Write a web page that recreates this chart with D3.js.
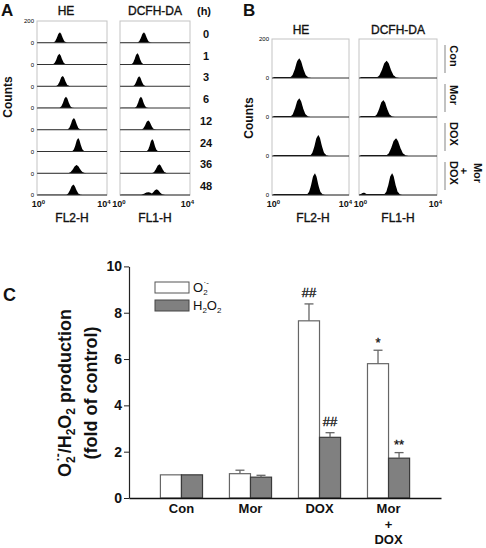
<!DOCTYPE html>
<html><head><meta charset="utf-8">
<script src="https://cdn.jsdelivr.net/npm/d3@7"></script>
<style>body{margin:0;background:#fff}svg{display:block}text{font-family:Arial,"Liberation Sans",sans-serif}</style>
</head><body><svg id="c" width="486" height="548"></svg>
<script>
// ---------- Panel A data (peak position in decades, peak counts, half-width in decades) ----------
const timeLabels = ["0","1","3","6","12","24","36","48"];
const heCenterA  = [1.31,1.28,1.47,1.66,2.11,2.36,2.27,2.08];
const hePeakA    = [96,98,95,104,108,123,76,96];
const heWidthA   = [0.36,0.36,0.36,0.36,0.36,0.34,0.46,0.4];
const dcfCenterA = [1.37,1.0,1.1,1.2,1.62,1.85,2.25,2.1];
const dcfPeakA   = [96,104,92,104,86,114,83,52];
const dcfWidthA  = [0.36,0.34,0.34,0.34,0.38,0.32,0.4,0.42];
const dcfShoulderA = [null,null,null,null,null,null,null,[1.62,26,0.5]];
// ---------- Panel B data ----------
const treatB = ["Con","Mor","DOX","Mor + DOX"];
const heCenterB  = [1.42,1.42,2.41,2.23];
const hePeakB    = [101,96,108,112];
const heWidthB   = [0.47,0.45,0.42,0.4];
const dcfCenterB = [1.42,1.25,1.9,1.7];
const dcfPeakB   = [89,87,91,112];
const dcfWidthB  = [0.5,0.45,0.5,0.4];
const dcfShoulderB = [null,null,null,[0.25,12,0.3]];
// shared peak profile (offset in half-widths, relative height)
const profileX = [-1.25,-1,-0.75,-0.5,-0.25,0,0.2,0.45,0.7,1,1.3];
const profileY = [0,0.03,0.15,0.45,0.85,1,0.85,0.45,0.15,0.03,0];
// ---------- Panel C data ----------
const categories = ["Con","Mor","DOX","Mor + DOX"];
const o2Values   = [1.0,1.05,7.65,5.8];
const o2Errors   = [0,0.15,0.73,0.58];
const h2o2Values = [1.0,0.9,2.62,1.72];
const h2o2Errors = [0,0.08,0.2,0.24];
const o2Marks    = ["","","##","*"];
const h2o2Marks  = ["","","##","**"];
const yTicks     = [0,2,4,6,8,10];

const FONT = 'Arial,"Liberation Sans",sans-serif';
const svg = d3.select("#c");
const prof = d3.scaleLinear().domain(profileX).range(profileY).clamp(true);
const grid = d3.range(0, 4.0001, 0.02);

function series(comps, floor){
  const main = comps[0][0];
  return grid.map(d=>{
    let v = 0;
    comps.forEach(c=>{ v = Math.max(v, c[1]*prof((d-c[0])/c[2])); });
    if (d>0.06 && d<main-0.15) v = Math.max(v, floor);
    return [d, v];
  });
}

function histBox(x0,x1,top,rowH,rows,floor,showY,dxFirst,dxLast){
  const xs = d3.scaleLog().domain([1,1e4]).range([x0,x1]);
  const n = rows.length;
  const g = svg.append("g");
  g.append("rect").attr("x",x0).attr("y",top).attr("width",x1-x0).attr("height",rowH*n)
    .attr("fill","#fff").attr("stroke","#c4c4c4").attr("stroke-width",1);
  rows.forEach((cs,i)=>{
    const base = top+rowH*(i+1);
    const ys = d3.scaleLinear().domain([0,200]).range([base, base-rowH]);
    const area = d3.area().x(p=>xs(Math.pow(10,p[0]))).y0(base).y1(p=>ys(p[1]));
    g.append("path").datum(series(cs,floor)).attr("d",area).attr("fill","#000");
    g.append("line").attr("x1",x0).attr("x2",x1).attr("y1",base).attr("y2",base)
      .attr("stroke","#333").attr("stroke-width",1);
    if (showY){
      const a = g.append("g").attr("transform",`translate(${x0},0)`)
        .call(d3.axisLeft(ys).tickValues(i===0?[0,200]:[0]).tickSize(0).tickPadding(3));
      a.select(".domain").remove();
      a.attr("font-size",6).attr("font-family",FONT);
    }
  });
  const gx = g.append("g").attr("transform",`translate(0,${top+rowH*n})`)
    .call(d3.axisBottom(xs).tickValues([1,1e4]).tickSize(0).tickPadding(6).tickFormat(d=>String(Math.round(Math.log10(d)))));
  gx.select(".domain").remove();
  gx.attr("font-family",FONT);
  gx.selectAll(".tick text").each(function(d,i){
    const t = d3.select(this); const e = t.text();
    t.text(null).attr("font-size",9).attr("font-weight","bold").attr("fill","#111").attr("dx", i===0?dxFirst:dxLast);
    t.append("tspan").text("10");
    t.append("tspan").attr("dy",-3).attr("font-size",6).text(e);
  });
}

function label(x,y,txt,size,weight,anchor,rot){
  const t = svg.append("text").attr("font-size",size).attr("font-weight",weight||"normal")
    .attr("text-anchor",anchor||"start").attr("fill","#111").text(txt);
  if (rot) t.attr("transform",`translate(${x},${y}) rotate(${rot})`); else t.attr("x",x).attr("y",y);
  return t;
}
function semi(t){ return t.attr("stroke","#111").attr("stroke-width",0.35); }

// ================= Panel A =================
const rowsA_he = heCenterA.map((c,i)=>[[c,hePeakA[i],heWidthA[i]]]);
const rowsA_dcf = dcfCenterA.map((c,i)=>{ const r=[[c,dcfPeakA[i],dcfWidthA[i]]]; if(dcfShoulderA[i]) r.push(dcfShoulderA[i]); return r; });
histBox(37,107,21,21.75,rowsA_he,3,true,1,-3.5);
histBox(120,190,21,21.75,rowsA_dcf,3,false,-1.5,-3);
label(1,16,"A",17,"bold");
semi(label(66,15,"HE",12,"normal","middle"));
semi(label(155,15,"DCFH-DA",12,"normal","middle"));
label(204,15,"(h)",11,"bold","middle");
timeLabels.forEach((t,i)=>label(206,21+21.75*(i+1)-5,t,11,"bold","middle"));
label(12,97,"Counts",12,"bold","middle",-90);
semi(label(72,222,"FL2-H",12,"normal","middle"));
semi(label(155,222,"FL1-H",12,"normal","middle"));

// ================= Panel B =================
const rowsB_he = heCenterB.map((c,i)=>[[c,hePeakB[i],heWidthB[i]]]);
const rowsB_dcf = dcfCenterB.map((c,i)=>{ const r=[[c,dcfPeakB[i],dcfWidthB[i]]]; if(dcfShoulderB[i]) r.push(dcfShoulderB[i]); return r; });
histBox(272,349,39,39,rowsB_he,5,true,1,-4);
histBox(359,437,39,39,rowsB_dcf,5,false,1,-2);
label(243,16,"B",17,"bold");
semi(label(301,34,"HE",12,"normal","middle"));
semi(label(398,34,"DCFH-DA",12,"normal","middle"));
label(253,118,"Counts",12,"bold","middle",-90);
semi(label(313,222,"FL2-H",12,"normal","middle"));
semi(label(398,222,"FL1-H",12,"normal","middle"));
treatB.forEach((t,i)=>{
  const top = 39+39*i, base = top+39;
  svg.append("line").attr("x1",445).attr("x2",445).attr("y1",top+6).attr("y2",base-5)
    .attr("stroke","#999").attr("stroke-width",1.2);
  const cy = top+17;
  const parts = t.split(" ");
  if (parts.length===1){
    label(450,cy,t,11,"bold","middle",90);
  } else {
    label(450,cy,parts[2],11,"bold","middle",90);
    label(460,cy-2,parts[1],11,"bold","middle",90);
    label(474,cy,parts[0],11,"bold","middle",90);
  }
});

// ================= Panel C =================
label(3,301,"C",18,"bold");
const y = d3.scaleLinear().domain([0,10]).range([498,266.4]);
const x = d3.scaleBand().domain(categories).range([129,441]).paddingInner(0.39).paddingOuter(0.455);
const xs2 = d3.scaleBand().domain(["o2","h2o2"]).range([0,x.bandwidth()]);

const gy = svg.append("g").attr("transform","translate(129,0)")
  .call(d3.axisLeft(y).tickValues(yTicks).tickSize(5).tickPadding(2).tickSizeOuter(0));
gy.attr("font-family",FONT).attr("font-size",14).attr("font-weight","bold");
gy.select(".domain").attr("stroke","#222").attr("stroke-width",1.2);
gy.selectAll(".tick line").attr("stroke","#222");
gy.selectAll(".tick text").attr("fill","#111");

const bars = svg.append("g");
categories.forEach((c,i)=>{
  const specs = [["o2",o2Values[i],o2Errors[i],o2Marks[i],"#fff","#666"],["h2o2",h2o2Values[i],h2o2Errors[i],h2o2Marks[i],"#808080","#3a3a3a"]];
  specs.forEach(([k,v,e,m,fill,stroke])=>{
    const bx = x(c)+xs2(k), bw = xs2.bandwidth();
    bars.append("rect").attr("x",bx).attr("y",y(v)).attr("width",bw).attr("height",y(0)-y(v))
      .attr("fill",fill).attr("stroke",stroke).attr("stroke-width",1.2);
    const cx = bx+bw/2;
    let topY = y(v);
    if (e>0){
      topY = y(v+e);
      bars.append("line").attr("x1",cx).attr("x2",cx).attr("y1",y(v)).attr("y2",topY).attr("stroke","#666").attr("stroke-width",1.3);
      bars.append("line").attr("x1",cx-4.5).attr("x2",cx+4.5).attr("y1",topY).attr("y2",topY).attr("stroke","#666").attr("stroke-width",1.3);
    }
    if (m){
      const off = m[0]==="#" ? 7 : 3.5;
      bars.append("text").attr("x",cx).attr("y",topY-off).attr("text-anchor","middle")
        .attr("font-size",13).attr("fill","#111").attr("stroke","#111").attr("stroke-width",0.3).text(m);
    }
  });
});

const gxC = svg.append("g").attr("transform","translate(0,498)")
  .call(d3.axisBottom(x).tickSize(0).tickPadding(6).tickSizeOuter(0));
gxC.attr("font-family",FONT).attr("font-size",13).attr("font-weight","bold");
gxC.select(".domain").attr("stroke","#111").attr("stroke-width",1.5);
gxC.selectAll(".tick text").attr("fill","#111").attr("dy",null).attr("y",15).each(function(d){
  const t = d3.select(this); const parts = d.split(" ");
  t.text(null);
  parts.forEach((p,j)=>t.append("tspan").attr("x",0).attr("dy", j===0?0:15.5).text(p));
});

// legend
svg.append("rect").attr("x",155).attr("y",282).attr("width",34).attr("height",11).attr("fill","#fff").attr("stroke","#555");
svg.append("rect").attr("x",155).attr("y",300).attr("width",34).attr("height",11).attr("fill","#808080").attr("stroke","#444");
const l1 = svg.append("text").attr("x",193).attr("y",292).attr("font-size",13).attr("fill","#111");
l1.append("tspan").text("O");
l1.append("tspan").attr("font-size",8).attr("dy",3).text("2");
l1.append("tspan").attr("font-size",8).attr("dx",-4).attr("dy",-10).text("·-");
const l2 = svg.append("text").attr("x",193).attr("y",310).attr("font-size",13).attr("fill","#111");
l2.append("tspan").text("H");
l2.append("tspan").attr("font-size",8).attr("dy",3).text("2");
l2.append("tspan").attr("dy",-3).text("O");
l2.append("tspan").attr("font-size",8).attr("dy",3).text("2");

// y title
const t1 = svg.append("text").attr("transform","translate(71,393) rotate(-90)").attr("text-anchor","middle")
  .attr("font-size",18).attr("font-weight","bold").attr("fill","#111");
t1.append("tspan").text("O");
t1.append("tspan").attr("font-size",12).attr("dy",4).text("2");
t1.append("tspan").attr("font-size",12).attr("dx",-5).attr("dy",-13).text("·-");
t1.append("tspan").attr("dy",9).text("/H");
t1.append("tspan").attr("font-size",12).attr("dy",4).text("2");
t1.append("tspan").attr("dy",-4).text("O");
t1.append("tspan").attr("font-size",12).attr("dy",4).text("2");
t1.append("tspan").attr("dy",-4).text(" production");
svg.append("text").attr("transform","translate(97,393) rotate(-90)").attr("text-anchor","middle")
  .attr("font-size",18).attr("font-weight","bold").attr("fill","#111").text("(fold of control)");
</script></body></html>
